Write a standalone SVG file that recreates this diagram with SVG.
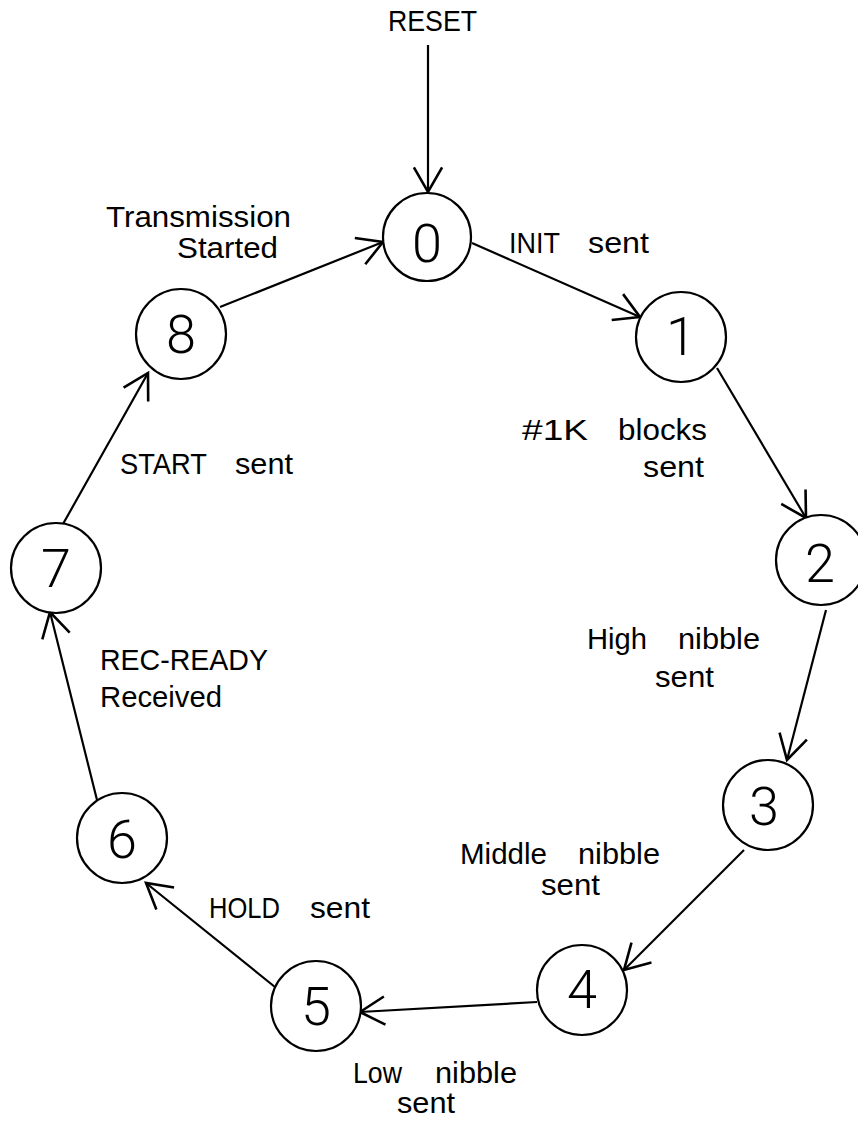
<svg xmlns="http://www.w3.org/2000/svg" width="858" height="1121" viewBox="0 0 858 1121">
  <style>
    .state { fill: #fff; stroke: #000; stroke-width: 2.2; }
    .num { font-family: Roboto, "Liberation Sans", sans-serif; font-weight: 300; font-size: 54px; fill: #000; text-anchor: middle; }
    .lbl { font-family: "Liberation Sans", Arial, sans-serif; font-size: 29px; fill: #000; }
    .edge { stroke: #000; stroke-width: 2.2; fill: none; marker-end: url(#open); }
  </style>
  <defs>
    <marker id="open" markerUnits="userSpaceOnUse" markerWidth="40" markerHeight="40" viewBox="-30 -15 34 30" refX="0" refY="0" orient="auto">
      <path d="M -21 -12 L 0 0 L -21 12" fill="none" stroke="#000" stroke-width="2.2"/>
    </marker>
  </defs>
  <rect width="858" height="1121" fill="#fff"/>

  <!-- transitions -->
  <g id="connectors">
    <line class="edge" x1="428" y1="45" x2="428" y2="192"/>
    <line class="edge" x1="220" y1="307" x2="383" y2="242"/>
    <line class="edge" x1="472" y1="243" x2="640" y2="317"/>
    <line class="edge" x1="717" y1="368" x2="806" y2="518"/>
    <line class="edge" x1="826" y1="610" x2="787" y2="760"/>
    <line class="edge" x1="744" y1="850" x2="624" y2="970"/>
    <line class="edge" x1="537" y1="1002" x2="360" y2="1012"/>
    <line class="edge" x1="275" y1="987" x2="146" y2="883"/>
    <line class="edge" x1="97" y1="800" x2="50" y2="612"/>
    <line class="edge" x1="63" y1="524" x2="148" y2="373"/>
  </g>

  <!-- states -->
  <g id="state-0"><circle class="state" cx="427" cy="237" r="44"/><text class="num" x="427" y="262">0</text></g>
  <g id="state-1"><circle class="state" cx="681" cy="337" r="45"/><text class="num" x="681" y="355">1</text></g>
  <g id="state-2"><circle class="state" cx="821" cy="560" r="45"/><text class="num" x="820" y="582">2</text></g>
  <g id="state-3"><circle class="state" cx="768" cy="805" r="45"/><text class="num" x="764" y="825">3</text></g>
  <g id="state-4"><circle class="state" cx="582" cy="990" r="45"/><text class="num" x="582" y="1008">4</text></g>
  <g id="state-5"><circle class="state" cx="316" cy="1006" r="45"/><text class="num" x="316" y="1025">5</text></g>
  <g id="state-6"><circle class="state" cx="122" cy="838" r="45"/><text class="num" x="122" y="858">6</text></g>
  <g id="state-7"><circle class="state" cx="56" cy="568" r="45"/><text class="num" x="56" y="587">7</text></g>
  <g id="state-8"><circle class="state" cx="181" cy="334" r="45"/><text class="num" x="181" y="353">8</text></g>

  <!-- transition labels -->
  <g id="labels" lengthAdjust="spacingAndGlyphs">
    <text class="lbl" x="388" y="31" textLength="89" lengthAdjust="spacingAndGlyphs">RESET</text>
    <text class="lbl" x="509" y="253" textLength="51" lengthAdjust="spacingAndGlyphs">INIT</text>
    <text class="lbl" x="588" y="253" textLength="61" lengthAdjust="spacingAndGlyphs">sent</text>
    <text class="lbl" x="106" y="227" textLength="185" lengthAdjust="spacingAndGlyphs">Transmission</text>
    <text class="lbl" x="177" y="258" textLength="101" lengthAdjust="spacingAndGlyphs">Started</text>
    <text class="lbl" x="522" y="440" textLength="66" lengthAdjust="spacingAndGlyphs">#1K</text>
    <text class="lbl" x="618" y="440" textLength="89" lengthAdjust="spacingAndGlyphs">blocks</text>
    <text class="lbl" x="643" y="477" textLength="61" lengthAdjust="spacingAndGlyphs">sent</text>
    <text class="lbl" x="587" y="649" textLength="60" lengthAdjust="spacingAndGlyphs">High</text>
    <text class="lbl" x="678" y="649" textLength="82" lengthAdjust="spacingAndGlyphs">nibble</text>
    <text class="lbl" x="655" y="687" textLength="59" lengthAdjust="spacingAndGlyphs">sent</text>
    <text class="lbl" x="460" y="864" textLength="87" lengthAdjust="spacingAndGlyphs">Middle</text>
    <text class="lbl" x="578" y="864" textLength="82" lengthAdjust="spacingAndGlyphs">nibble</text>
    <text class="lbl" x="541" y="895" textLength="59" lengthAdjust="spacingAndGlyphs">sent</text>
    <text class="lbl" x="353" y="1083" textLength="49" lengthAdjust="spacingAndGlyphs">Low</text>
    <text class="lbl" x="435" y="1083" textLength="82" lengthAdjust="spacingAndGlyphs">nibble</text>
    <text class="lbl" x="397" y="1113" textLength="58" lengthAdjust="spacingAndGlyphs">sent</text>
    <text class="lbl" x="209" y="918" textLength="71" lengthAdjust="spacingAndGlyphs">HOLD</text>
    <text class="lbl" x="310" y="918" textLength="60" lengthAdjust="spacingAndGlyphs">sent</text>
    <text class="lbl" x="100" y="670" textLength="168" lengthAdjust="spacingAndGlyphs">REC-READY</text>
    <text class="lbl" x="100" y="707" textLength="122" lengthAdjust="spacingAndGlyphs">Received</text>
    <text class="lbl" x="120" y="474" textLength="87" lengthAdjust="spacingAndGlyphs">START</text>
    <text class="lbl" x="235" y="474" textLength="58" lengthAdjust="spacingAndGlyphs">sent</text>
  </g>
</svg>
